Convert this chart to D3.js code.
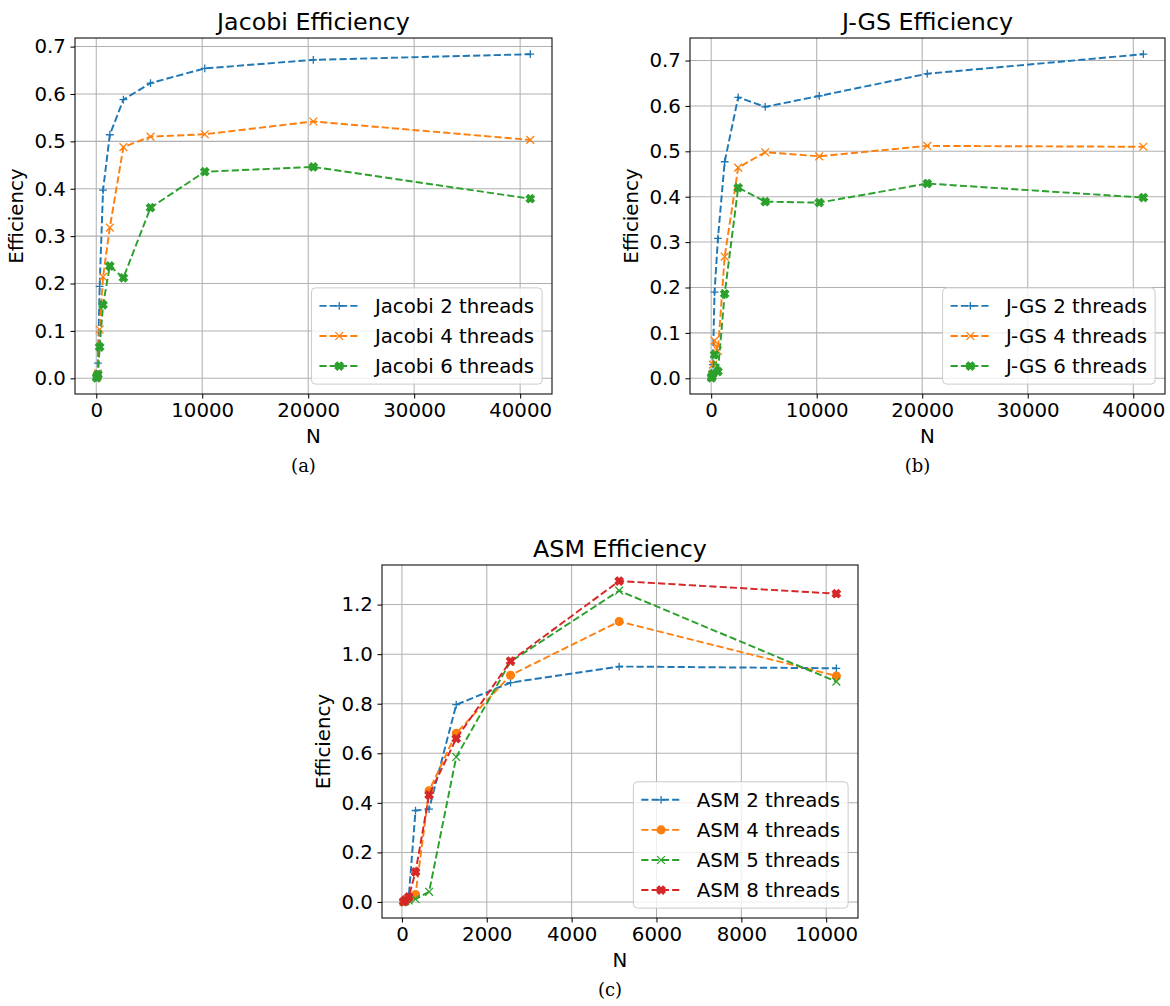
<!DOCTYPE html>
<html>
<head>
<meta charset="utf-8">
<script src="https://cdn.jsdelivr.net/npm/d3@7"></script>
<style>
  body { margin: 0; background: #fff; }
  svg text { font-family: "DejaVu Sans", sans-serif; fill: #000; }
</style>
</head>
<body>
<script>
// problem sizes
const nLong = [40, 80, 160, 320, 640, 1280, 2560, 5120, 10240, 20480, 40960];
const nAsm = [40, 80, 160, 320, 640, 1280, 2560, 5120, 10240];

// Jacobi efficiency
const jacobi2 = [0.002, 0.008, 0.032, 0.194, 0.397, 0.514, 0.588, 0.623, 0.654, 0.672, 0.684];
const jacobi4 = [0.002, 0.004, 0.010, 0.103, 0.214, 0.318, 0.488, 0.510, 0.515, 0.542, 0.503];
const jacobi6 = [0.001, 0.003, 0.008, 0.066, 0.155, 0.237, 0.212, 0.360, 0.436, 0.446, 0.379];

// J-GS efficiency
const jgs2 = [0.003, 0.010, 0.030, 0.190, 0.308, 0.477, 0.619, 0.598, 0.622, 0.671, 0.714];
const jgs4 = [0.002, 0.008, 0.030, 0.083, 0.060, 0.268, 0.464, 0.498, 0.489, 0.512, 0.510];
const jgs6 = [0.001, 0.004, 0.010, 0.052, 0.015, 0.186, 0.420, 0.389, 0.387, 0.429, 0.398];

// ASM efficiency
const asm2 = [0.001, 0.005, 0.020, 0.369, 0.375, 0.796, 0.885, 0.950, 0.943];
const asm4 = [0.001, 0.005, 0.012, 0.030, 0.449, 0.681, 0.915, 1.132, 0.912];
const asm5 = [0.000, 0.003, 0.006, 0.012, 0.041, 0.585, 0.970, 1.256, 0.889];
const asm8 = [0.001, 0.008, 0.020, 0.121, 0.432, 0.659, 0.972, 1.295, 1.244];

// ticks
const xTicksLong = [0, 10000, 20000, 30000, 40000];
const xTicksAsm = [0, 2000, 4000, 6000, 8000, 10000];
const yTicksEff = [0, 0.1, 0.2, 0.3, 0.4, 0.5, 0.6, 0.7];
const yTicksAsm = [0, 0.2, 0.4, 0.6, 0.8, 1.0, 1.2];

const blue = "#1f77b4", orange = "#ff7f0e", green = "#2ca02c", red = "#d62728";
const fs = 19.8;        // base font px
const pt = 19.4 / 15;   // px per point

const svg = d3.select("body").append("svg")
    .attr("width", 1170).attr("height", 1006)
    .style("background", "#fff");

function drawMarker(sel, kind, color) {
    const s = 3 * pt;
    if (kind === "+") {
        sel.append("path").attr("d", `M${-s},0L${s},0M0,${-s}L0,${s}`)
            .attr("stroke", color).attr("stroke-width", 1 * pt).attr("fill", "none");
    } else if (kind === "x") {
        sel.append("path").attr("d", `M${-s},${-s}L${s},${s}M${-s},${s}L${s},${-s}`)
            .attr("stroke", color).attr("stroke-width", 1 * pt).attr("fill", "none");
    } else if (kind === "X") {
        sel.append("path").attr("d", d3.symbol(d3.symbolCross, 40)())
            .attr("transform", "rotate(45)")
            .attr("fill", color).attr("stroke", color).attr("stroke-width", 1 * pt);
    } else if (kind === "o") {
        sel.append("circle").attr("r", s)
            .attr("fill", color).attr("stroke", color).attr("stroke-width", 1 * pt);
    }
}

function panel(cfg) {
    const {left, right, top, bottom} = cfg.box;
    const g = svg.append("g");

    const allY = cfg.series.flatMap(s => s.values);
    const [x0, x1] = d3.extent(cfg.n);
    const [y0, y1] = d3.extent(allY);
    const mx = (x1 - x0) * 0.05, my = (y1 - y0) * 0.05;
    const x = d3.scaleLinear().domain([x0 - mx, x1 + mx]).range([left, right]);
    const y = d3.scaleLinear().domain([y0 - my, y1 + my]).range([bottom, top]);

    // grid
    g.append("g").selectAll("line").data(cfg.xTicks).join("line")
        .attr("x1", d => x(d)).attr("x2", d => x(d))
        .attr("y1", top).attr("y2", bottom)
        .attr("stroke", "#b0b0b0").attr("stroke-width", 0.8 * pt);
    g.append("g").selectAll("line").data(cfg.yTicks).join("line")
        .attr("y1", d => y(d)).attr("y2", d => y(d))
        .attr("x1", left).attr("x2", right)
        .attr("stroke", "#b0b0b0").attr("stroke-width", 0.8 * pt);

    // series
    const line = d3.line().x(d => x(d[0])).y(d => y(d[1]));
    cfg.series.forEach(s => {
        const pts = cfg.n.map((v, i) => [v, s.values[i]]);
        g.append("path").datum(pts)
            .attr("d", line)
            .attr("fill", "none")
            .attr("stroke", s.color)
            .attr("stroke-width", 1.5 * pt)
            .attr("stroke-dasharray", `${5.55 * pt},${2.4 * pt}`);
        g.append("g").selectAll("g").data(pts).join("g")
            .attr("transform", d => `translate(${x(d[0])},${y(d[1])})`)
            .each(function () { drawMarker(d3.select(this), s.marker, s.color); });
    });

    // frame
    g.append("rect")
        .attr("x", left).attr("y", top)
        .attr("width", right - left).attr("height", bottom - top)
        .attr("fill", "none").attr("stroke", "#000").attr("stroke-width", 0.8 * pt);

    // axes
    const xa = g.append("g").attr("transform", `translate(0,${bottom})`)
        .call(d3.axisBottom(x).tickValues(cfg.xTicks).tickFormat(d3.format("d"))
            .tickSize(3.5 * pt).tickPadding(3.5 * pt).tickSizeOuter(0));
    const ya = g.append("g").attr("transform", `translate(${left},0)`)
        .call(d3.axisLeft(y).tickValues(cfg.yTicks).tickFormat(d3.format(".1f"))
            .tickSize(3.5 * pt).tickPadding(3.5 * pt).tickSizeOuter(0));
    [xa, ya].forEach(a => {
        a.select(".domain").remove();
        a.selectAll("line").attr("stroke", "#000").attr("stroke-width", 0.8 * pt);
        a.selectAll("text").style("font-size", fs + "px")
            .style("font-family", "DejaVu Sans");
    });

    // labels
    const cx = (left + right) / 2;
    g.append("text").attr("x", cx).attr("y", top - 8)
        .attr("text-anchor", "middle").style("font-size", (fs * 1.2) + "px")
        .text(cfg.title);
    g.append("text").attr("x", cx).attr("y", bottom + 49)
        .attr("text-anchor", "middle").style("font-size", fs + "px")
        .text("N");
    g.append("text")
        .attr("transform", `translate(${left - 52},${(top + bottom) / 2}) rotate(-90)`)
        .attr("text-anchor", "middle").style("font-size", fs + "px")
        .text("Efficiency");
    g.append("text").attr("x", cx - 10).attr("y", bottom + 78)
        .attr("text-anchor", "middle")
        .style("font-family", "'DejaVu Serif', serif")
        .style("font-size", "18px")
        .text(cfg.caption);

    // legend
    const lg = g.append("g");
    const rowH = 1.02 * fs, gap = 0.5 * fs, pad = 0.4 * fs;
    const boxH = 2 * pad + cfg.series.length * rowH + (cfg.series.length - 1) * gap;
    const texts = lg.append("g");
    let tw = 0;
    cfg.series.forEach(s => {
        const t = texts.append("text").style("font-size", fs + "px").text(s.name);
        tw = Math.max(tw, t.node().getComputedTextLength());
    });
    const boxW = pad + 2 * fs + 0.8 * fs + tw + pad;
    const bx = right - 0.5 * fs - boxW, by = bottom - 0.5 * fs - boxH;
    lg.insert("rect", ":first-child")
        .attr("x", bx).attr("y", by).attr("width", boxW).attr("height", boxH)
        .attr("rx", 4).attr("fill", "#fff").attr("fill-opacity", 0.8)
        .attr("stroke", "#cccccc").attr("stroke-width", 1);
    cfg.series.forEach((s, i) => {
        const cy = by + pad + i * (rowH + gap) + rowH / 2;
        const hx = bx + pad;
        lg.append("line").attr("x1", hx).attr("x2", hx + 2 * fs)
            .attr("y1", cy).attr("y2", cy)
            .attr("stroke", s.color).attr("stroke-width", 1.5 * pt)
            .attr("stroke-dasharray", `${5.55 * pt},${2.4 * pt}`);
        drawMarker(lg.append("g").attr("transform", `translate(${hx + fs},${cy})`), s.marker, s.color);
    });
    texts.selectAll("text").each(function (d, i) {
        const cy = by + pad + i * (rowH + gap) + rowH / 2;
        d3.select(this).attr("x", bx + pad + 2.8 * fs).attr("y", cy + 0.36 * fs);
    });
}

panel({
    title: "Jacobi Efficiency", caption: "(a)",
    box: {left: 75, right: 552, top: 38, bottom: 394},
    n: nLong, xTicks: xTicksLong, yTicks: yTicksEff,
    series: [
        {name: "Jacobi 2 threads", values: jacobi2, color: blue, marker: "+"},
        {name: "Jacobi 4 threads", values: jacobi4, color: orange, marker: "x"},
        {name: "Jacobi 6 threads", values: jacobi6, color: green, marker: "X"}
    ]
});

panel({
    title: "J-GS Efficiency", caption: "(b)",
    box: {left: 690, right: 1165, top: 38, bottom: 394},
    n: nLong, xTicks: xTicksLong, yTicks: yTicksEff,
    series: [
        {name: "J-GS 2 threads", values: jgs2, color: blue, marker: "+"},
        {name: "J-GS 4 threads", values: jgs4, color: orange, marker: "x"},
        {name: "J-GS 6 threads", values: jgs6, color: green, marker: "X"}
    ]
});

panel({
    title: "ASM Efficiency", caption: "(c)",
    box: {left: 382, right: 858, top: 565, bottom: 918},
    n: nAsm, xTicks: xTicksAsm, yTicks: yTicksAsm,
    series: [
        {name: "ASM 2 threads", values: asm2, color: blue, marker: "+"},
        {name: "ASM 4 threads", values: asm4, color: orange, marker: "o"},
        {name: "ASM 5 threads", values: asm5, color: green, marker: "x"},
        {name: "ASM 8 threads", values: asm8, color: red, marker: "X"}
    ]
});
</script>
</body>
</html>
